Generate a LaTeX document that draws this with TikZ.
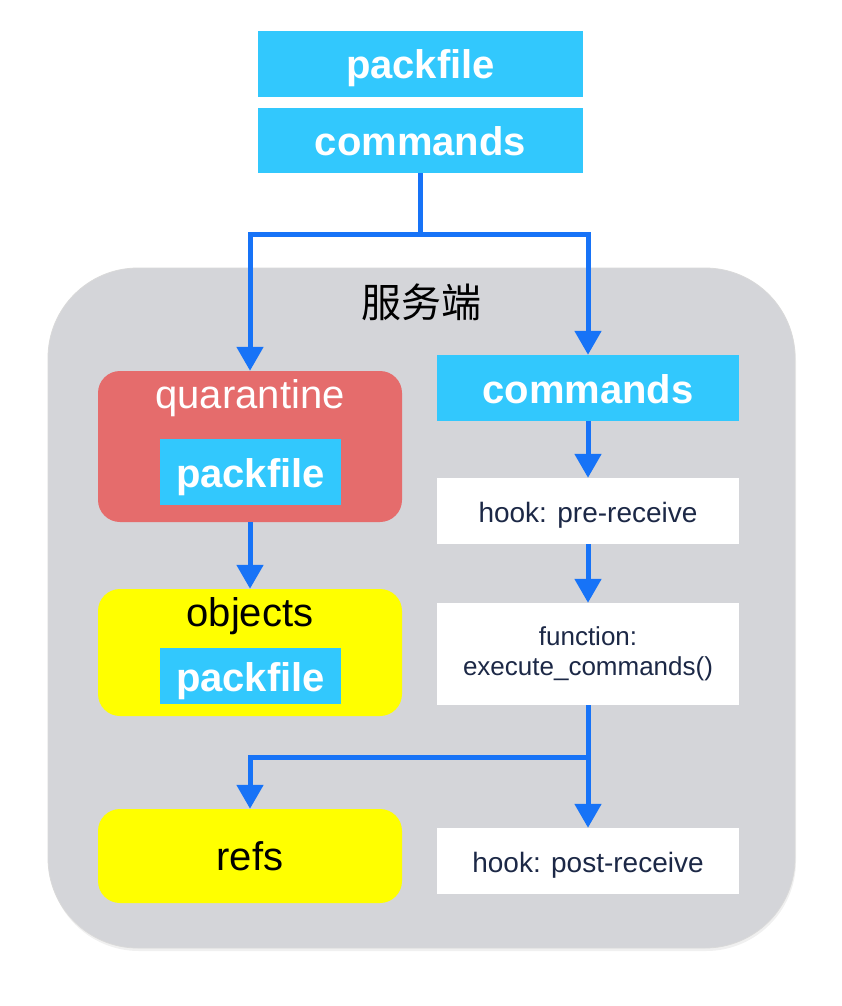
\documentclass[tikz,border=0pt]{standalone}
\usepackage{fontspec}
\setmainfont{Liberation Sans}
\newfontfamily\cjk{Noto Sans CJK SC}
\usepackage{tikz}
\usetikzlibrary{arrows.meta,positioning}

\definecolor{pfblue}{RGB}{50,200,253}
\definecolor{quarred}{RGB}{229,108,108}
\definecolor{objyellow}{RGB}{255,255,0}
\definecolor{flowblue}{RGB}{23,115,247}
\definecolor{servergray}{RGB}{212,213,217}
\definecolor{hooknavy}{RGB}{28,40,70}

\begin{document}
\begin{tikzpicture}[x=1pt,y=-1pt]
                    \tikzstyle{every node}+=[inner sep=0pt]
                    \tikzstyle{bluebox}=[fill=pfblue, text=white, font=\fontsize{40}{44}\selectfont\bfseries,
                                        text height=38pt, text depth=8pt]
                    \tikzstyle{areabox}=[rounded corners=22pt, minimum width=304pt]
                    \tikzstyle{stepbox}=[fill=white, text=hooknavy, minimum width=302pt, align=center,
                                        font=\fontsize{28}{30}\selectfont]
                    \tikzstyle{oneline}=[text height=26.5pt, text depth=4.5pt]
                    \tikzstyle{flow}=[draw=flowblue, line width=5pt]
                    \tikzstyle{flowarrow}=[flow, -{Triangle[width=26pt,length=24pt]}]
                    \useasboundingbox (0,0) rectangle (842,1006);
                    \fill [white] (0,0) rectangle (842,1006);
                    % server area
                    \fill [black, opacity=0.06, rounded corners=90pt] (49,271) rectangle (796,951);
                    \node [fill=servergray, draw=black!15, line width=0.8pt, rounded corners=90pt,
                           minimum width=747pt, minimum height=680pt] (server) at (421.5,608) {};
                    \node [font=\cjk\fontsize{40}{44}\selectfont] (title) at (421,302) {服务端};
                    % client side
                    \node [bluebox, minimum width=325pt, minimum height=66pt] (pftop) at (420.5,64) {packfile};
                    \node [bluebox, minimum width=325pt, minimum height=65pt] (cmdtop) at (420.5,140.5) {commands};
                    % left column
                    \node [areabox, fill=quarred, minimum height=151pt] (quar) at (250,446.5) {};
                    \node [text=white, font=\fontsize{40}{44}\selectfont] (quarlabel) at (250,398) {quarantine};
                    \node [bluebox, minimum width=181pt, minimum height=66pt] (quarpf) at (250.5,472) {packfile};
                    \node [areabox, fill=objyellow, minimum height=127pt] (objects) at (250,652.5) {};
                    \node [font=\fontsize{40}{44}\selectfont] (objlabel) at (250,616) {objects};
                    \node [bluebox, minimum width=181pt, minimum height=56pt] (objpf) at (250.5,676) {packfile};
                    \node [areabox, fill=objyellow, minimum height=94pt, font=\fontsize{40}{44}\selectfont] (refs) at (250,856) {refs};
                    % right column
                    \node [bluebox, minimum width=302pt, minimum height=66pt] (cmdright) at (588,388) {commands};
                    \node [stepbox, oneline, minimum height=66pt] (pre) at (588,511) {hook: pre-receive};
                    \node [stepbox, minimum height=102pt, font=\fontsize{26}{30}\selectfont] (func) at (588,654) {function:\\execute\_commands()};
                    \node [stepbox, oneline, minimum height=66pt] (post) at (588,861) {hook: post-receive};
                    % connectors
                    \coordinate (splittop) at (420.5,234);
                    \coordinate (splitbottom) at (588,757);
                    \draw [flow] (cmdtop.south) -- (splittop);
                    \draw [flowarrow] (splittop) -| (quar.north);
                    \draw [flowarrow] (splittop) -| (cmdright.north);
                    \draw [flowarrow] (quar.south) -- (objects.north);
                    \draw [flowarrow] (cmdright.south) -- (pre.north);
                    \draw [flowarrow] (pre.south) -- (func.north);
                    \draw [flow] (func.south) -- (splitbottom);
                    \draw [flowarrow] (splitbottom) -| (refs.north);
                    \draw [flowarrow] (splitbottom) -- (post.north);
                \end{tikzpicture}
\end{document}
